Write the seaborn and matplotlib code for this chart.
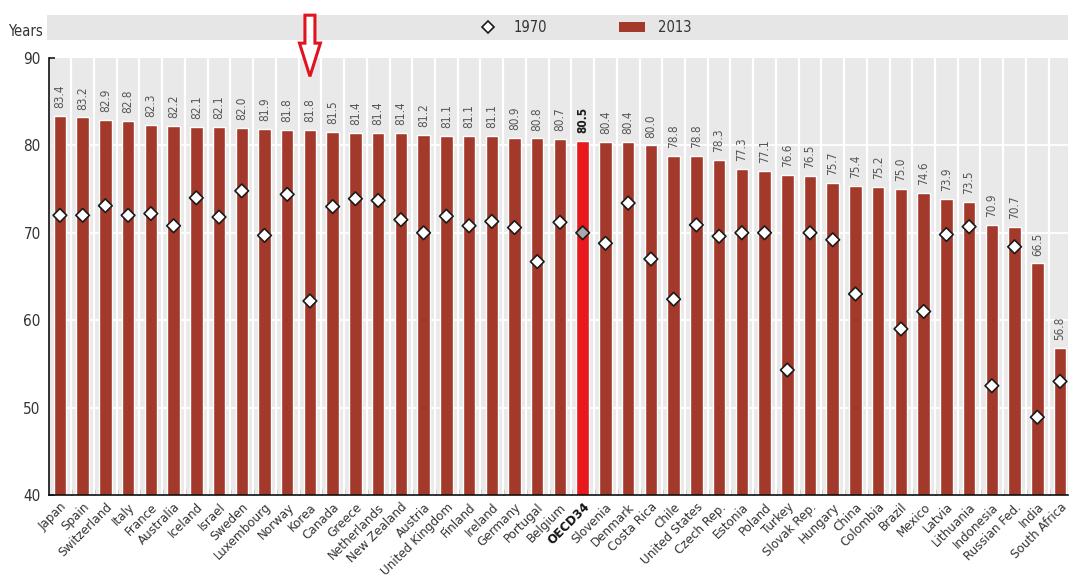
import numpy as np
import pandas as pd
import matplotlib
matplotlib.use("Agg")
import matplotlib.pyplot as plt
from matplotlib.patches import Rectangle, Polygon
from matplotlib.lines import Line2D
import seaborn as sns

countries = ["Japan", "Spain", "Switzerland", "Italy", "France", "Australia", "Iceland",
             "Israel", "Sweden", "Luxembourg", "Norway", "Korea", "Canada", "Greece",
             "Netherlands", "New Zealand", "Austria", "United Kingdom", "Finland", "Ireland",
             "Germany", "Portugal", "Belgium", "OECD34", "Slovenia", "Denmark", "Costa Rica",
             "Chile", "United States", "Czech Rep.", "Estonia", "Poland", "Turkey",
             "Slovak Rep.", "Hungary", "China", "Colombia", "Brazil", "Mexico", "Latvia",
             "Lithuania", "Indonesia", "Russian Fed.", "India", "South Africa"]

life_2013 = [83.4, 83.2, 82.9, 82.8, 82.3, 82.2, 82.1, 82.1, 82.0, 81.9, 81.8, 81.8, 81.5,
             81.4, 81.4, 81.4, 81.2, 81.1, 81.1, 81.1, 80.9, 80.8, 80.7, 80.5, 80.4, 80.4,
             80.0, 78.8, 78.8, 78.3, 77.3, 77.1, 76.6, 76.5, 75.7, 75.4, 75.2, 75.0, 74.6,
             73.9, 73.5, 70.9, 70.7, 66.5, 56.8]

life_1970 = [72.0, 72.0, 73.1, 72.0, 72.2, 70.8, 74.0, 71.8, 74.8, 69.7, 74.4, 62.2, 73.0,
             73.9, 73.7, 71.5, 70.0, 71.9, 70.8, 71.3, 70.6, 66.7, 71.2, 70.0, 68.8, 73.4,
             67.0, 62.4, 70.9, 69.6, 70.0, 70.0, 54.3, 70.0, 69.2, 63.0, np.nan, 59.0, 61.0,
             69.8, 70.7, 52.5, 68.4, 48.9, 53.0]

BAR = "#a3392a"
HIGHLIGHT = "#e8191c"
AVG = "OECD34"

df = pd.DataFrame({"country": countries, "y2013": life_2013, "y1970": life_1970})
df["pos"] = np.arange(len(df))
n = len(df)

sns.set_theme(style="white")
plt.rcParams["font.family"] = ["DejaVu Sans"]
plt.rcParams["font.stretch"] = "condensed"
COND = dict(fontstretch="condensed")

fig = plt.figure(figsize=(10.72, 5.84), dpi=100)
ax = fig.add_axes([49 / 1072, 1 - 495 / 584, (1068 - 49) / 1072, (495 - 58) / 584])
ax.set_facecolor("#e9e9e9")

palette = {c: (HIGHLIGHT if c == AVG else BAR) for c in countries}
sns.barplot(data=df, x="country", y="y2013", hue="country", palette=palette,
            order=countries, width=0.55, legend=False, saturation=1, ax=ax, zorder=3)

pts = df.dropna(subset=["y1970"])
face = ["#a8a8a8" if c == AVG else "white" for c in pts["country"]]
sns.scatterplot(x=pts["pos"], y=pts["y1970"], marker="D", s=48, color="white",
                edgecolor="#1a1a1a", linewidth=1.2, ax=ax, zorder=5, legend=False)
ax.collections[-1].set_facecolor(face)

# value labels above bars
for p, v, c in zip(df["pos"], df["y2013"], df["country"]):
    ax.text(p, v + 0.9, f"{v:.1f}", rotation=90, ha="center", va="bottom",
            fontsize=8.5, color="#1a1a1a" if c == AVG else "#555555",
            fontweight="bold" if c == AVG else "normal", zorder=4, **COND)

ax.set_ylim(40, 90)
ax.set_xlim(-0.48, n - 1 + 0.35)
ax.set_yticks([40, 50, 60, 70, 80, 90])
ax.set_yticklabels(["40", "50", "60", "70", "80", "90"], fontsize=11, color="#333333", **COND)

# column separators and horizontal grid
for b in np.arange(n - 1) + 0.5:
    ax.axvline(b, color="white", lw=1.6, zorder=1)
for g in [50, 60, 70, 80]:
    ax.axhline(g, color="white", lw=1.3, zorder=1)

ax.set_xticks(df["pos"])
ax.set_xticklabels(countries, rotation=45, ha="right", rotation_mode="anchor",
                   fontsize=9.5, color="#333333", **COND)
for lbl in ax.get_xticklabels():
    if lbl.get_text() == AVG:
        lbl.set_fontweight("bold")
        lbl.set_color("#111111")
ax.set_xticks(np.arange(n - 1) + 0.5, minor=True)
ax.tick_params(axis="x", which="major", length=0, pad=4)
ax.tick_params(axis="x", which="minor", direction="in", length=4, color="#2f4f2f", bottom=True)
ax.tick_params(axis="y", which="major", direction="in", length=4, left=True, pad=6)
ax.set_xlabel("")
ax.set_ylabel("")

for s in ["top", "right"]:
    ax.spines[s].set_visible(False)
for s in ["left", "bottom"]:
    ax.spines[s].set_color("#111111")
    ax.spines[s].set_linewidth(1.2)
    ax.spines[s].set_zorder(6)

# legend strip
fig.patches.append(Rectangle((47 / 1072, 1 - 40 / 584), (1068 - 47) / 1072, 25 / 584,
                             transform=fig.transFigure, facecolor="#e6e6e6",
                             edgecolor="none", zorder=-5))
handles = [Line2D([], [], marker="D", ls="none", markerfacecolor="white",
                  markeredgecolor="#1a1a1a", markersize=6.5, markeredgewidth=1.2),
           Rectangle((0, 0), 1, 1, facecolor=BAR, edgecolor="none")]
fig.legend(handles, ["1970", "2013"], loc="center", ncol=2,
           bbox_to_anchor=(583 / 1072, 1 - 27.5 / 584), frameon=False,
           handlelength=1.8, handleheight=0.7, columnspacing=4.9,
           handletextpad=0.9, labelcolor="#333333", prop=dict(size=10.5, stretch="condensed"))

fig.text(8 / 1072, 1 - 32 / 584, "Years", fontsize=10.5, color="#333333",
         ha="left", va="center", **COND)

# pointer arrow over Korea
k = countries.index("Korea")
sw, hw = 0.22, 0.46
arrow = Polygon([(k - sw, 94.9), (k + sw, 94.9), (k + sw, 91.7), (k + hw, 91.7),
                 (k, 87.9), (k - hw, 91.7), (k - sw, 91.7)], closed=True,
                facecolor="white", edgecolor="#e0141e", lw=2.2, clip_on=False, zorder=8)
ax.add_patch(arrow)

fig.savefig("out.png", dpi=100)
